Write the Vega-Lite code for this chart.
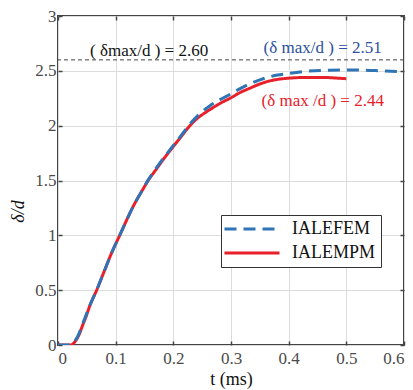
{
  "$schema": "https://vega.github.io/schema/vega-lite/v6.json",
  "width": 346,
  "height": 329,
  "autosize": "none",
  "padding": {"left": 58, "top": 16, "right": 9, "bottom": 45},
  "background": "white",
  "config": {
    "view": {"stroke": "#444444", "strokeWidth": 2},
    "font": "Liberation Serif",
    "axis": {
      "labelFont": "Liberation Serif",
      "titleFont": "Liberation Serif",
      "labelFontSize": 17,
      "labelColor": "#4a4a4a",
      "titleFontSize": 18,
      "titleFontWeight": "normal",
      "titleColor": "#111111",
      "domain": false,
      "gridColor": "#dcdcdc",
      "gridWidth": 1,
      "tickColor": "#444444",
      "tickWidth": 1.5,
      "tickSize": -4,
      "labelPadding": 6
    },
    "legend": {
      "orient": "none",
      "legendX": 163,
      "legendY": 199,
      "labelFont": "Liberation Serif",
      "labelFontSize": 18,
      "labelColor": "#111111",
      "strokeColor": "#333333",
      "fillColor": "white",
      "padding": 5,
      "symbolType": "M-5,0H5",
      "symbolSize": 121,
      "symbolStrokeWidth": 3,
      "symbolOffset": 17,
      "labelOffset": 31,
      "rowPadding": 6
    }
  },
  "datasets": {
    "fem": [
      {"series": "IALEFEM", "t": 0, "v": 0},
      {"series": "IALEFEM", "t": 0.021, "v": 0},
      {"series": "IALEFEM", "t": 0.026, "v": 0.015},
      {"series": "IALEFEM", "t": 0.031, "v": 0.05},
      {"series": "IALEFEM", "t": 0.036, "v": 0.1},
      {"series": "IALEFEM", "t": 0.041, "v": 0.17},
      {"series": "IALEFEM", "t": 0.047, "v": 0.25},
      {"series": "IALEFEM", "t": 0.056, "v": 0.37},
      {"series": "IALEFEM", "t": 0.067, "v": 0.5},
      {"series": "IALEFEM", "t": 0.08, "v": 0.67},
      {"series": "IALEFEM", "t": 0.093, "v": 0.84},
      {"series": "IALEFEM", "t": 0.107, "v": 1.0},
      {"series": "IALEFEM", "t": 0.12, "v": 1.15},
      {"series": "IALEFEM", "t": 0.132, "v": 1.28},
      {"series": "IALEFEM", "t": 0.145, "v": 1.4},
      {"series": "IALEFEM", "t": 0.157, "v": 1.51},
      {"series": "IALEFEM", "t": 0.17, "v": 1.61},
      {"series": "IALEFEM", "t": 0.183, "v": 1.705},
      {"series": "IALEFEM", "t": 0.2, "v": 1.82},
      {"series": "IALEFEM", "t": 0.212, "v": 1.9},
      {"series": "IALEFEM", "t": 0.228, "v": 2.01},
      {"series": "IALEFEM", "t": 0.245, "v": 2.105},
      {"series": "IALEFEM", "t": 0.263, "v": 2.18},
      {"series": "IALEFEM", "t": 0.28, "v": 2.235},
      {"series": "IALEFEM", "t": 0.3, "v": 2.29},
      {"series": "IALEFEM", "t": 0.315, "v": 2.335},
      {"series": "IALEFEM", "t": 0.332, "v": 2.38},
      {"series": "IALEFEM", "t": 0.35, "v": 2.418},
      {"series": "IALEFEM", "t": 0.367, "v": 2.446},
      {"series": "IALEFEM", "t": 0.385, "v": 2.465},
      {"series": "IALEFEM", "t": 0.4, "v": 2.477},
      {"series": "IALEFEM", "t": 0.433, "v": 2.497},
      {"series": "IALEFEM", "t": 0.47, "v": 2.505},
      {"series": "IALEFEM", "t": 0.51, "v": 2.508},
      {"series": "IALEFEM", "t": 0.55, "v": 2.502},
      {"series": "IALEFEM", "t": 0.6, "v": 2.49}
    ],
    "mpm": [
      {"series": "IALEMPM", "t": 0, "v": 0},
      {"series": "IALEMPM", "t": 0.022, "v": 0},
      {"series": "IALEMPM", "t": 0.027, "v": 0.015},
      {"series": "IALEMPM", "t": 0.032, "v": 0.05},
      {"series": "IALEMPM", "t": 0.037, "v": 0.1},
      {"series": "IALEMPM", "t": 0.042, "v": 0.17},
      {"series": "IALEMPM", "t": 0.048, "v": 0.25},
      {"series": "IALEMPM", "t": 0.056, "v": 0.37},
      {"series": "IALEMPM", "t": 0.067, "v": 0.5},
      {"series": "IALEMPM", "t": 0.08, "v": 0.67},
      {"series": "IALEMPM", "t": 0.093, "v": 0.84},
      {"series": "IALEMPM", "t": 0.107, "v": 1.0},
      {"series": "IALEMPM", "t": 0.12, "v": 1.15},
      {"series": "IALEMPM", "t": 0.132, "v": 1.28},
      {"series": "IALEMPM", "t": 0.145, "v": 1.4},
      {"series": "IALEMPM", "t": 0.157, "v": 1.505},
      {"series": "IALEMPM", "t": 0.17, "v": 1.6},
      {"series": "IALEMPM", "t": 0.183, "v": 1.695},
      {"series": "IALEMPM", "t": 0.2, "v": 1.81},
      {"series": "IALEMPM", "t": 0.211, "v": 1.883},
      {"series": "IALEMPM", "t": 0.228, "v": 1.995},
      {"series": "IALEMPM", "t": 0.24, "v": 2.06},
      {"series": "IALEMPM", "t": 0.25, "v": 2.1},
      {"series": "IALEMPM", "t": 0.263, "v": 2.145},
      {"series": "IALEMPM", "t": 0.28, "v": 2.2},
      {"series": "IALEMPM", "t": 0.3, "v": 2.255},
      {"series": "IALEMPM", "t": 0.315, "v": 2.3},
      {"series": "IALEMPM", "t": 0.332, "v": 2.34},
      {"series": "IALEMPM", "t": 0.35, "v": 2.38},
      {"series": "IALEMPM", "t": 0.367, "v": 2.408},
      {"series": "IALEMPM", "t": 0.385, "v": 2.425},
      {"series": "IALEMPM", "t": 0.4, "v": 2.433},
      {"series": "IALEMPM", "t": 0.433, "v": 2.44},
      {"series": "IALEMPM", "t": 0.46, "v": 2.44},
      {"series": "IALEMPM", "t": 0.48, "v": 2.435},
      {"series": "IALEMPM", "t": 0.5, "v": 2.428}
    ]
  },
  "layer": [
    {
      "data": {"name": "mpm"},
      "mark": {"type": "line", "strokeWidth": 3, "clip": true, "interpolate": "monotone"},
      "encoding": {
        "x": {
          "field": "t", "type": "quantitative",
          "scale": {"domain": [0, 0.6], "nice": false},
          "axis": {"values": [0, 0.1, 0.2, 0.3, 0.4, 0.5, 0.6], "format": ".1~f", "title": "t (ms)", "titlePadding": 4, "labelPadding": 9}
        },
        "y": {
          "field": "v", "type": "quantitative",
          "scale": {"domain": [0, 3], "nice": false},
          "axis": {"values": [0, 0.5, 1, 1.5, 2, 2.5, 3], "format": ".1~f", "title": "δ/d", "titleFontStyle": "italic", "titleX": -31, "titleY": 195}
        },
        "color": {
          "field": "series", "type": "nominal",
          "scale": {"domain": ["IALEFEM", "IALEMPM"], "range": ["#2f74b5", "#e8202a"]},
          "legend": {"title": null}
        },
        "strokeDash": {
          "field": "series", "type": "nominal",
          "scale": {"domain": ["IALEFEM", "IALEMPM"], "range": [[12, 7], [1, 0]]},
          "legend": {"title": null}
        }
      }
    },
    {
      "data": {"name": "fem"},
      "mark": {"type": "line", "strokeWidth": 3, "clip": true, "interpolate": "monotone"},
      "encoding": {
        "x": {"field": "t", "type": "quantitative", "axis": null},
        "y": {"field": "v", "type": "quantitative", "axis": null},
        "color": {"field": "series", "type": "nominal", "legend": {"title": null}},
        "strokeDash": {"field": "series", "type": "nominal", "legend": {"title": null}}
      }
    },
    {
      "data": {"values": [{"level": 2.6}]},
      "mark": {"type": "rule", "color": "#444444", "strokeWidth": 1, "strokeDash": [4, 3]},
      "encoding": {
        "y": {"field": "level", "type": "quantitative", "axis": null}
      }
    },
    {
      "data": {"values": [{"label": "( δmax/d ) = 2.60", "t": 0.158, "v": 2.685}]},
      "mark": {"type": "text", "font": "Liberation Serif", "fontSize": 17, "color": "#111111", "align": "center", "baseline": "middle"},
      "encoding": {
        "x": {"field": "t", "type": "quantitative", "axis": {"orient": "top", "labels": false, "grid": false, "title": null, "values": [0, 0.1, 0.2, 0.3, 0.4, 0.5, 0.6]}},
        "y": {"field": "v", "type": "quantitative", "axis": {"orient": "right", "labels": false, "grid": false, "title": null, "values": [0, 0.5, 1, 1.5, 2, 2.5, 3]}},
        "text": {"field": "label"}
      }
    },
    {
      "data": {"values": [{"label": "(δ max/d ) = 2.51", "t": 0.459, "v": 2.705}]},
      "mark": {"type": "text", "font": "Liberation Serif", "fontSize": 17, "color": "#2d4f9e", "align": "center", "baseline": "middle"},
      "encoding": {
        "x": {"field": "t", "type": "quantitative", "axis": null},
        "y": {"field": "v", "type": "quantitative", "axis": null},
        "text": {"field": "label"}
      }
    },
    {
      "data": {"values": [{"label": "(δ max /d ) = 2.44", "t": 0.459, "v": 2.225}]},
      "mark": {"type": "text", "font": "Liberation Serif", "fontSize": 17, "color": "#e8202a", "align": "center", "baseline": "middle"},
      "encoding": {
        "x": {"field": "t", "type": "quantitative", "axis": null},
        "y": {"field": "v", "type": "quantitative", "axis": null},
        "text": {"field": "label"}
      }
    }
  ],
  "resolve": {"axis": {"x": "independent", "y": "independent"}}
}
